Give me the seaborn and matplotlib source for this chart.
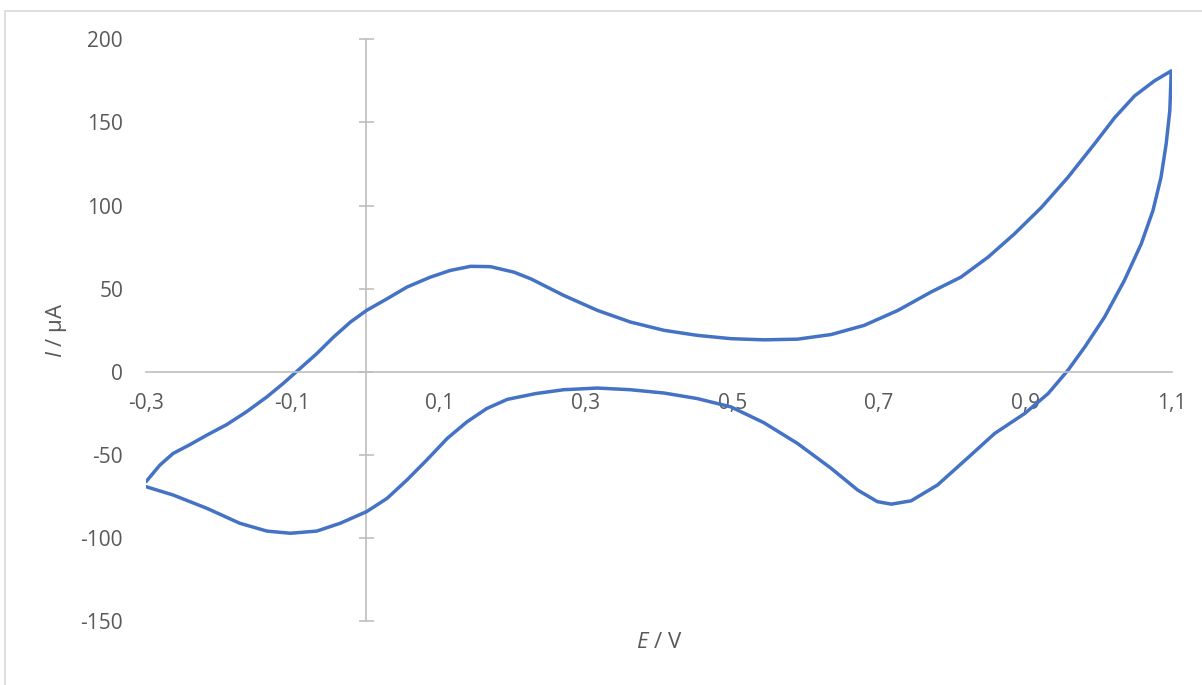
import pandas as pd
import seaborn as sns
import matplotlib.pyplot as plt
from matplotlib.patches import Rectangle

E_ida = [-0.300, -0.281, -0.263, -0.240, -0.217, -0.190, -0.163, -0.135,
         -0.113, -0.090, -0.067, -0.044, -0.021, 0.001, 0.029, 0.056, 0.088,
         0.115, 0.143, 0.170, 0.202, 0.225, 0.270, 0.316, 0.361, 0.407,
         0.452, 0.498, 0.543, 0.589, 0.635, 0.680, 0.726, 0.771, 0.812,
         0.849, 0.885, 0.922, 0.958, 0.994, 1.022, 1.049, 1.076, 1.099]
I_ida = [-66, -56, -49, -43.7, -38, -31.7, -24, -15,
         -7, 2, 11, 21, 30, 37, 44, 51, 57,
         61, 63.5, 63.3, 60, 56, 46, 37, 30, 25,
         22, 20, 19.3, 19.7, 22.5, 28, 37, 48, 57,
         69, 83, 99, 117, 137, 153, 166, 175, 181]

E_volta = [1.097, 1.092, 1.085, 1.074, 1.058, 1.035, 1.008, 0.981, 0.958,
           0.931, 0.899, 0.858, 0.823, 0.780, 0.744, 0.717, 0.698, 0.671,
           0.635, 0.589, 0.543, 0.498, 0.452, 0.407, 0.361, 0.316, 0.270,
           0.232, 0.193, 0.165, 0.138, 0.111, 0.083, 0.056, 0.029, 0.001,
           -0.035, -0.067, -0.103, -0.135, -0.172, -0.217, -0.263, -0.300]
I_volta = [157, 137, 117, 97, 77, 55, 33, 15, 1,
           -13, -25, -37, -51, -68, -77.5, -79.5, -78, -71,
           -58, -43, -30.5, -21, -16, -12.7, -10.7, -9.7, -10.7,
           -13, -16.5, -22, -30, -40, -53, -65, -76, -84,
           -91, -95.7, -97, -95.7, -91, -82, -74, -69]

yticks = [-150, -100, -50, 0, 50, 100, 150, 200]
xticks = [-0.3, -0.1, 0.1, 0.3, 0.5, 0.7, 0.9, 1.1]

df = pd.DataFrame({'E': E_ida + E_volta, 'I': I_ida + I_volta})

sns.set_theme(style="white")
plt.rcParams['font.family'] = ['Open Sans', 'DejaVu Sans']
plt.rcParams['mathtext.fontset'] = 'custom'
plt.rcParams['mathtext.rm'] = 'Open Sans'
plt.rcParams['mathtext.it'] = 'Open Sans:italic'
plt.rcParams['axes.unicode_minus'] = False

cinza = '#bfbfbf'
texto = '#595959'

fig = plt.figure(figsize=(12.02, 6.85), dpi=100)
ax = fig.add_axes([146 / 1202, 1 - 621.4 / 685, 1026 / 1202, 582.1 / 685])

sns.lineplot(data=df, x='E', y='I', sort=False, estimator=None,
             color='#4472C4', linewidth=2.5, ax=ax,
             solid_joinstyle='round', solid_capstyle='round')

ax.set_xlim(-0.3, 1.1)
ax.set_ylim(-150, 200)
ax.set_xticks(xticks)
ax.set_xticklabels([f"{v:.1f}".replace('.', ',') for v in xticks])
ax.set_yticks(yticks)

# eixo x passa por I = 0
for lado in ['top', 'right', 'left']:
    ax.spines[lado].set_visible(False)
ax.spines['bottom'].set_position(('data', 0))
ax.spines['bottom'].set_color(cinza)
ax.spines['bottom'].set_linewidth(1.2)
ax.tick_params(axis='x', direction='inout', length=10.8, width=1.2,
               color=cinza, labelcolor=texto, labelsize=15, pad=10)
ax.tick_params(axis='y', left=False, length=0, labelcolor=texto,
               labelsize=15, pad=16.5)

# eixo y passa por E = 0 (rótulos ficam à esquerda)
sec = ax.secondary_yaxis(0.3 / 1.4)
sec.set_yticks(yticks)
sec.spines['left'].set_color(cinza)
sec.spines['right'].set_color(cinza)
sec.spines['left'].set_linewidth(1.2)
sec.spines['right'].set_linewidth(1.2)
sec.tick_params(direction='inout', length=10.8, width=1.2, color=cinza,
                labelleft=False, labelright=False)

ax.set_xlabel('$E$ / V', fontsize=16, color=texto)
ax.xaxis.set_label_coords(0.5, -0.037)
ax.xaxis.label.set_verticalalignment('center')
ax.set_ylabel('$I$ / µA', fontsize=16, color=texto)
ax.yaxis.set_label_coords(-0.087, 0.5)
ax.yaxis.label.set_verticalalignment('center')
ax.grid(False)

# borda do gráfico (estilo Excel)
fig.patches.append(Rectangle((5 / 1202, -0.1), 1.2, 1 - 10.5 / 685 + 0.1,
                             transform=fig.transFigure, fill=False,
                             edgecolor='#d9d9d9', linewidth=1.2))

fig.savefig('out.png', dpi=100)
